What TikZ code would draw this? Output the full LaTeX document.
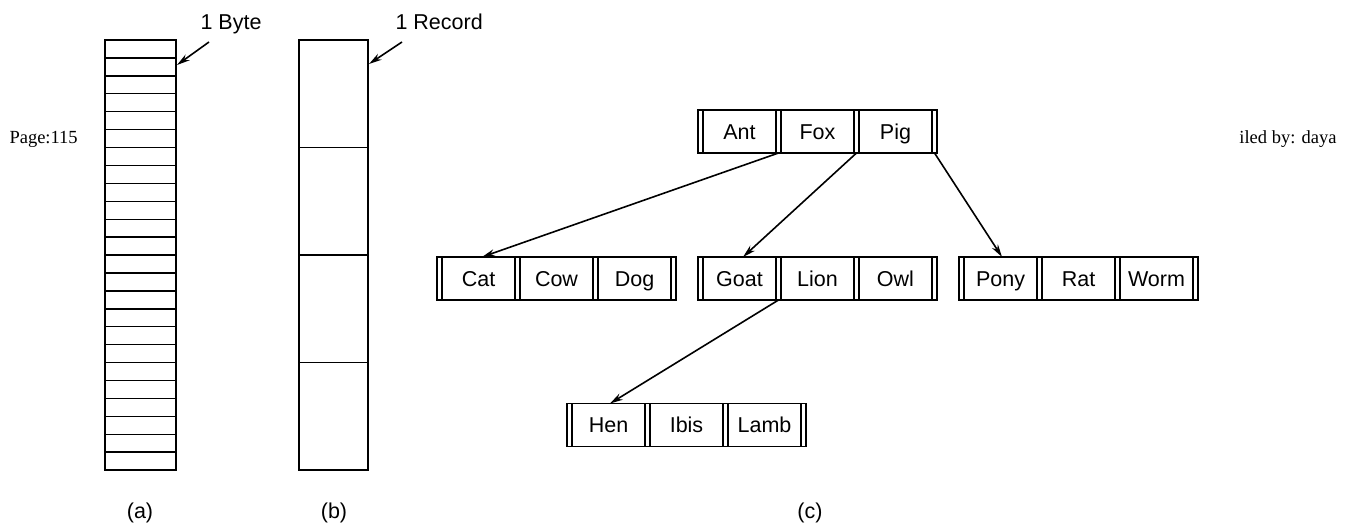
\documentclass[tikz,border=0pt]{standalone}
\usepackage{fontspec}
\setmainfont{Liberation Serif}
\setsansfont{Liberation Sans}
\usetikzlibrary{positioning,calc,arrows.meta}

% one B-tree node: name, x and y of first key, three keys
\newcommand\keynode[6]{%
  \node[keycell] (#1-1) at (#2,#3) {#4};
  \node[keycell, right=5pt of #1-1] (#1-2) {#5};
  \node[keycell, right=5pt of #1-2] (#1-3) {#6};
  \draw[boxline] ([xshift=-5pt]#1-1.north west) rectangle ([xshift=5pt]#1-3.south east);
}

\begin{document}
\begin{tikzpicture}[x=1pt,y=-1pt,>={Stealth[length=13pt,width=7pt]}]
\tikzset{
  boxline/.style={line width=1.7pt},
  keycell/.style={rectangle,draw,line width=1.7pt,outer sep=0pt,inner sep=0pt,
    minimum width=73pt,minimum height=43pt,text height=15pt,text depth=0pt,
    font=\sffamily\fontsize{21.5}{25}\selectfont},
  ptr/.style={->,line width=1.6pt},
  caption/.style={font=\sffamily\fontsize{21.5}{25}\selectfont,anchor=base},
  stamp/.style={font=\fontsize{18.5}{22}\selectfont}
}
\useasboundingbox (0,0) rectangle (1346,527);

% page stamps
\node[stamp,anchor=base west] (page) at (6,143) {Page:115};
\node[stamp,anchor=base east] (owner) at (1340,143) {iled by: daya};

% (a) byte sequence
\node[draw,boxline,outer sep=0pt,minimum width=71pt,minimum height=430pt] (bytes) at (140.5,255) {};
\foreach \i in {1,...,23}
  \draw[line width=1.4pt] (105,40+17.92*\i) -- (176,40+17.92*\i);
\node[caption,anchor=base west] (bytelbl) at (197,30) {1 Byte};
\coordinate (bytetail) at (209,42);
\draw[ptr] (bytetail) -- ($(bytes.north east)+(1,25)$);
\node[caption] (capa) at (140,518) {(a)};

% (b) record sequence
\node[draw,boxline,outer sep=0pt,minimum width=69pt,minimum height=430pt] (records) at (333.5,255) {};
\foreach \i in {1,2,3}
  \draw[boxline] (299,40+107.5*\i) -- (368,40+107.5*\i);
\node[caption,anchor=base west] (reclbl) at (392,30) {1 Record};
\coordinate (rectail) at (402,42);
\draw[ptr] (rectail) -- ($(records.north east)+(1,24)$);
\node[caption] (capb) at (334,518) {(b)};

% (c) tree
\keynode{root}{739.5}{131.5}{Ant}{Fox}{Pig}
\keynode{cat}{478.5}{278.5}{Cat}{Cow}{Dog}
\keynode{goat}{739.5}{278.5}{Goat}{Lion}{Owl}
\keynode{pony}{1000.5}{278.5}{Pony}{Rat}{Worm}
\keynode{hen}{608.5}{425}{Hen}{Ibis}{Lamb}

\draw[ptr] ($(root-1.south east)!.5!(root-2.south west)$) -- ($(cat-1.north west)+(40,0)$);
\draw[ptr] ($(root-2.south east)!.5!(root-3.south west)$) -- ($(goat-1.north west)+(40,0)$);
\draw[ptr] ($(root-3.south east)+(2.5,0)$) -- ($(pony-1.north west)+(38,0)$);
\draw[ptr] ($(goat-1.south east)!.5!(goat-2.south west)$) -- ($(hen-1.north west)+(38,0)$);
\node[caption] (capc) at (810,518) {(c)};
\end{tikzpicture}
\end{document}
